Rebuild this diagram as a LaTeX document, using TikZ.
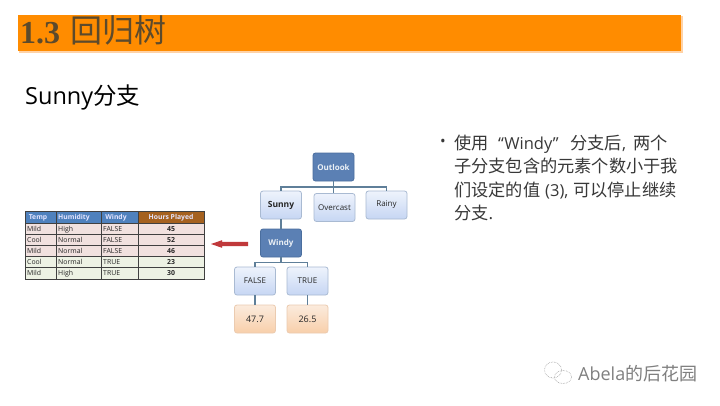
\documentclass[tikz,border=0pt]{standalone}
\usepackage{fontspec}
\setmainfont{Open Sans}
\newfontfamily\cjk{Noto Sans CJK SC}
\newfontfamily\titleserif{Liberation Serif}
\usetikzlibrary{calc}
\definecolor{barorange}{HTML}{FF8C00}
\definecolor{titlebrown}{HTML}{5C4A2C}
\definecolor{darkblue}{HTML}{5B80B4}
\definecolor{darkedge}{HTML}{4A6E9E}
\definecolor{paleedge}{HTML}{A9BAD2}
\definecolor{paletop}{HTML}{EEF3FC}
\definecolor{palebot}{HTML}{C6D6F3}
\definecolor{leaftop}{HTML}{FBEBDD}
\definecolor{leafbot}{HTML}{F8CFAA}
\definecolor{leafedge}{HTML}{EBCBB0}
\definecolor{linkblue}{HTML}{5F7F99}
\definecolor{hdrblue}{HTML}{4F81BD}
\definecolor{hdrbrown}{HTML}{A5611F}
\definecolor{rowpink}{HTML}{F1E1DF}
\definecolor{rowgreen}{HTML}{EDF2E4}
\definecolor{arrowred}{HTML}{C0393B}
\tikzset{
  x=1pt,y=-1pt,
  treebox/.style={rounded corners=2.5pt,minimum width=41pt,minimum height=28pt,inner sep=0pt,font=\fontsize{8}{10}\selectfont},
  darkbox/.style={treebox,draw=darkedge,line width=0.8pt,fill=darkblue,text=white!88!darkblue,font=\fontsize{8}{10}\selectfont\bfseries},
  palebox/.style={treebox,draw=paleedge,line width=0.8pt,top color=paletop,bottom color=palebot,text=black!85},
  leafbox/.style={treebox,draw=leafedge,line width=0.8pt,top color=leaftop,bottom color=leafbot,text=black!85,font=\fontsize{9}{11}\selectfont},
  link/.style={draw=linkblue,line width=1.2pt},
  headcell/.style={anchor=base,inner sep=0pt,text=white!90!blue,font=\fontsize{6.8}{8}\selectfont\bfseries},
  datacell/.style={anchor=base west,inner sep=0pt,text=black!85,font=\fontsize{6.9}{8}\selectfont},
  numcell/.style={anchor=base,inner sep=0pt,text=black!85,font=\fontsize{6.9}{8}\selectfont\bfseries},
  bullettext/.style={anchor=base west,inner sep=0pt,text=black!78,font=\fontsize{16.5}{18}\selectfont},
  cjktext/.style={anchor=base west,inner sep=0pt,text=black!78,font=\fontsize{17.2}{18}\selectfont\cjk},
}
\begin{document}
\begin{tikzpicture}
\useasboundingbox (0,0) rectangle (720,405);
\fill[white] (0,0) rectangle (720,405);
% title bar
\fill[orange!35!white] (19,16) rectangle (683,53);
\fill[barorange] (18,15) rectangle (681,51);
\node[anchor=base west,inner sep=0pt,text=titlebrown] (title) at (20,43.5) {\fontsize{32}{34}\selectfont\titleserif\bfseries 1.3};
\node[anchor=base west,inner sep=0pt,text=titlebrown] (titlecjk) at (70,42) {\fontsize{32}{34}\selectfont\cjk 回归树};
\node[anchor=west,inner sep=0pt] (sub) at (25,97) {\fontsize{23.5}{28}\selectfont Sunny\cjk 分支};
% table
\fill[hdrblue] (25,211) rectangle (138,223);
\fill[hdrbrown] (138,211) rectangle (204,223);
\fill[rowpink] (25,223) rectangle (204,257);
\fill[rowgreen] (25,257) rectangle (204,279);
\foreach \yy in {223,234.2,245.4,256.6,267.8}
  \draw[black!75,line width=0.7pt] (25,\yy) -- (204,\yy);
\foreach \xx in {56,101,138}
  \draw[black!75,line width=0.8pt] (\xx,211) -- (\xx,279);
\draw[black!75,line width=1pt] (25,211) rectangle (204,279);
\node[headcell] (h1) at (38,219.5) {Temp};
\node[headcell] (h2) at (74,219.5) {Humidity};
\node[headcell] (h3) at (116,219.5) {Windy};
\node[headcell] (h4) at (171,219.5) {Hours Played};
\foreach \yy/\a/\b/\c/\d in {231.1/Mild/High/FALSE/45,242.3/Cool/Normal/FALSE/52,253.5/Mild/Normal/FALSE/46,264.7/Cool/Normal/TRUE/23,275.9/Mild/High/TRUE/30}{
  \node[datacell] at (27,\yy) {\a};
  \node[datacell] at (58,\yy) {\b};
  \node[datacell] at (103,\yy) {\c};
  \node[numcell] at (171,\yy) {\d};
}
% tree nodes
\node[darkbox] (outlook) at (333.5,167) {Outlook};
\node[palebox,font=\fontsize{8.5}{10}\selectfont\bfseries] (sunny) at (281,205) {Sunny};
\node[palebox] (overcast) at (334.5,207.5) {Overcast};
\node[palebox] (rainy) at (386.5,205) {Rainy};
\node[darkbox] (windy) at (281,243) {Windy};
\node[palebox] (false) at (255,281) {FALSE};
\node[palebox] (true) at (307.5,281) {TRUE};
\node[leafbox] (v1) at (255,319) {47.7};
\node[leafbox] (v2) at (307.5,319) {26.5};
% connectors
\draw[link] (outlook.south) -- ++(0,5.5) coordinate (busa) -- (busa -| sunny.north) -- (sunny.north);
\draw[link] (busa) -- (busa -| rainy.north) -- (rainy.north);
\draw[link] (busa) -- (overcast.north -| busa);
\draw[link] (sunny.south) -- (windy.north);
\draw[link] (windy.south) -- ++(0,5) coordinate (busb) -- (busb -| false.north) -- (false.north);
\draw[link] (busb) -- (busb -| true.north) -- (true.north);
\draw[link] (false.south) -- (v1.north);
\draw[link] (true.south) -- (v2.north);
% red arrow
\fill[arrowred] (248,241.8) -- (222,241.8) -- (222,240.2) -- (211,244) -- (222,247.8) -- (222,246.2) -- (248,246.2) -- cycle;
% bullet text
\node[anchor=center,inner sep=0pt,text=black!78,font=\fontsize{15}{16}\selectfont] (bul) at (443,143) {•};
\node[cjktext] (l1a) at (454,149) {使用};
\node[bullettext] (l1b) at (498,149) {“Windy”};
\node[cjktext] (l1c) at (570,149) {分支后};
\node[bullettext] (l1d) at (622,149) {,};
\node[cjktext] (l1e) at (633,149) {两个};
\node[cjktext] (l2) at (454,172.5) {子分支包含的元素个数小于我};
\node[cjktext] (l3a) at (454,196) {们设定的值};
\node[bullettext] (l3b) at (545,196) {(3),};
\node[cjktext] (l3c) at (573,196) {可以停止继续};
\node[cjktext] (l4) at (454,219.5) {分支\rmfamily .};
% watermark
\begin{scope}[draw=black!38,line width=0.6pt,densely dotted]
\draw (553,370) ellipse [x radius=8.5pt,y radius=8pt];
\draw (563,377) ellipse [x radius=8.5pt,y radius=6.5pt];
\end{scope}
\node[anchor=west,inner sep=0pt,text=black!50,font=\fontsize{18}{20}\selectfont] (wm) at (578,374) {Abela\cjk 的后花园};
\end{tikzpicture}
\end{document}
